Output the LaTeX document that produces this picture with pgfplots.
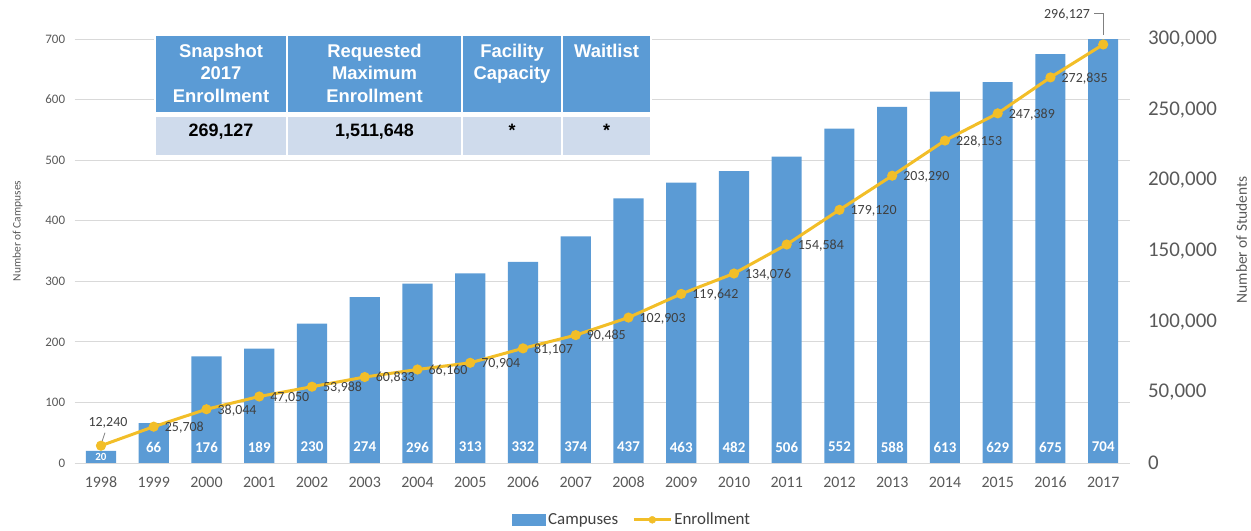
\documentclass[border=0pt]{standalone}
\usepackage{pgfplots}
\pgfplotsset{compat=1.18}
\usepackage{pgfplotstable}
\usepackage{fontspec}
\setmainfont{Carlito}
\newfontfamily\tabfont{Liberation Sans}
\definecolor{barblue}{RGB}{91,155,213}
\definecolor{gold}{RGB}{242,190,40}
\definecolor{hdr}{RGB}{91,155,213}
\definecolor{rowc}{RGB}{207,219,236}
\definecolor{gridc}{RGB}{217,217,217}
\definecolor{tickc}{RGB}{89,89,89}
\definecolor{labc}{RGB}{64,64,64}

% campuses and enrollment by year
\pgfplotstableread{
x year camp enr    elab
0  1998 20  12240  12,240
1  1999 66  25708  25,708
2  2000 176 38044  38,044
3  2001 189 47050  47,050
4  2002 230 53988  53,988
5  2003 274 60833  60,833
6  2004 296 66160  66,160
7  2005 313 70904  70,904
8  2006 332 81107  81,107
9  2007 374 90485  90,485
10 2008 437 102903 102,903
11 2009 463 119642 119,642
12 2010 482 134076 134,076
13 2011 506 154584 154,584
14 2012 552 179120 179,120
15 2013 588 203290 203,290
16 2014 613 228153 228,153
17 2015 629 247389 247,389
18 2016 675 272835 272,835
19 2017 704 296127 296,127
}\data

\begin{document}
\begin{tikzpicture}
\path[use as bounding box] (0,0) rectangle (1251bp,531bp);

\begin{axis}[
  at={(74.6bp,68bp)}, anchor=south west,
  width=1055bp, height=424bp, scale only axis,
  xmin=-0.5, xmax=19.5, ymin=0, ymax=700,
  axis line style={draw=none},
  tick style={draw=none},
  xtick={0,...,19},
  xticklabels={1998,1999,2000,2001,2002,2003,2004,2005,2006,2007,2008,2009,2010,2011,2012,2013,2014,2015,2016,2017},
  ytick={0,100,...,700},
  ymajorgrids, grid style={gridc, line width=0.9bp},
  /pgf/number format/assume math mode=true,
  yticklabel style={font=\fontsize{13}{13}\selectfont, text=tickc, xshift=-6bp},
  xticklabel style={font=\fontsize{16}{16}\selectfont, text=tickc, text height=11bp, text depth=0pt, yshift=-10bp},
  ylabel={Number of Campuses},
  every axis y label/.style={at={(axis description cs:0,0.5)}, xshift=-57bp, yshift=20bp, rotate=90, anchor=center, font=\fontsize{11.5}{11.5}\selectfont, text=tickc},
  legend style={at={(axis description cs:0.5285,-0.134)}, anchor=center, draw=none, legend columns=2,
    font=\fontsize{17}{17}\selectfont, text=labc,
    /tikz/every even column/.append style={column sep=12bp}},
]
\addplot[ybar, bar shift=0pt, bar width=0.57, fill=barblue, draw=none,
  legend image code/.code={\fill[barblue] (0bp,-6bp) rectangle (34bp,6bp);}]
  table[x=x, y=camp] {\data};
\addlegendentry{Campuses}
\addlegendimage{legend image code/.code={\draw[gold, line width=3bp] (0bp,0bp) -- (37bp,0bp); \fill[gold] (18.5bp,0bp) circle (3.5bp);}}
\addlegendentry{Enrollment}

% bar value labels near the base
\addplot[draw=none, forget plot, nodes near coords, point meta=explicit symbolic,
  nodes near coords style={anchor=center, yshift=16bp, text=white, font=\bfseries\fontsize{15}{15}\selectfont},
  skip coords between index={0}{1}]
  table[x=x, y expr=0, meta=camp] {\data};
\addplot[draw=none, forget plot, nodes near coords, point meta=explicit symbolic,
  nodes near coords style={anchor=center, yshift=6bp, text=white, font=\bfseries\fontsize{11}{11}\selectfont},
  skip coords between index={1}{20}]
  table[x=x, y expr=0, meta=camp] {\data};
\end{axis}

\begin{axis}[
  at={(74.6bp,68bp)}, anchor=south west,
  width=1055bp, height=424bp, scale only axis,
  xmin=-0.5, xmax=19.5, ymin=0, ymax=300000,
  axis y line*=right, axis x line=none,
  axis line style={draw=none},
  tick style={draw=none},
  xtick=\empty,
  scaled y ticks=false,
  ytick={0,50000,100000,150000,200000,250000,300000},
  yticklabels={0,{50,000},{100,000},{150,000},{200,000},{250,000},{300,000}},
  yticklabel style={font=\fontsize{21}{21}\selectfont, text=tickc, xshift=15bp},
  ylabel={Number of Students},
  every axis y label/.style={at={(axis description cs:1,0.5)}, xshift=112bp, yshift=11bp, rotate=90, anchor=center, font=\fontsize{15.5}{15.5}\selectfont, text=tickc},
  clip=false,
]
\addplot[gold, line width=3bp, mark=*, mark size=3.5bp, mark options={fill=gold, draw=gold}]
  table[x=x, y=enr] {\data};

\addplot[draw=none, nodes near coords, point meta=explicit symbolic,
  nodes near coords style={anchor=west, xshift=10bp, yshift=-1bp, inner sep=1bp, text=labc, font=\fontsize{14}{14}\selectfont},
  skip coords between index={0}{1}, skip coords between index={19}{20}]
  table[x=x, y=enr, meta=elab] {\data};
\addplot[draw=none, nodes near coords, point meta=explicit symbolic,
  nodes near coords style={anchor=south, xshift=7bp, yshift=16bp, inner sep=1bp, text=labc, font=\fontsize{14}{14}\selectfont},
  skip coords between index={1}{20}]
  table[x=x, y=enr, meta=elab] {\data};
\addplot[draw=none, nodes near coords, point meta=explicit symbolic,
  nodes near coords style={anchor=east, xshift=-12bp, yshift=30bp, inner sep=1bp, text=labc, font=\fontsize{14}{14}\selectfont},
  skip coords between index={0}{19}]
  table[x=x, y=enr, meta=elab] {\data};

\draw[gray, line width=0.8bp] ([xshift=1bp,yshift=4bp]axis cs:0,12240) -- ([xshift=4bp,yshift=13bp]axis cs:0,12240);
\draw[gray, line width=0.8bp] ([xshift=-9bp,yshift=31bp]axis cs:19,296127) -- ([yshift=31bp]axis cs:19,296127) -- ([yshift=9bp]axis cs:19,296127);
\end{axis}

% summary table
\fill[white] (154bp,374bp) rectangle (652bp,497bp);
\fill[hdr] (156bp,419bp) rectangle (286bp,495bp);
\fill[hdr] (288bp,419bp) rectangle (461bp,495bp);
\fill[hdr] (463bp,419bp) rectangle (561bp,495bp);
\fill[hdr] (563bp,419bp) rectangle (650bp,495bp);
\fill[rowc] (156bp,376bp) rectangle (286bp,414bp);
\fill[rowc] (288bp,376bp) rectangle (461bp,414bp);
\fill[rowc] (463bp,376bp) rectangle (561bp,414bp);
\fill[rowc] (563bp,376bp) rectangle (650bp,414bp);
\begin{scope}[every node/.style={anchor=north, align=center, text=white, inner sep=0pt, font=\tabfont\bfseries\fontsize{18.5}{22.5}\selectfont}]
\node at (221bp,487bp) {Snapshot\\2017\\Enrollment};
\node at (374.5bp,487bp) {Requested\\Maximum\\Enrollment};
\node at (512bp,487bp) {Facility\\Capacity};
\node at (606.5bp,487bp) {Waitlist};
\end{scope}
\begin{scope}[every node/.style={anchor=center, text=black, inner sep=0pt, font=\tabfont\bfseries\fontsize{18}{18}\selectfont}]
\node at (221bp,399bp) {269,127};
\node at (374.5bp,399bp) {1,511,648};
\node at (512bp,401bp) {*};
\node at (606.5bp,401bp) {*};
\end{scope}
\end{tikzpicture}
\end{document}
